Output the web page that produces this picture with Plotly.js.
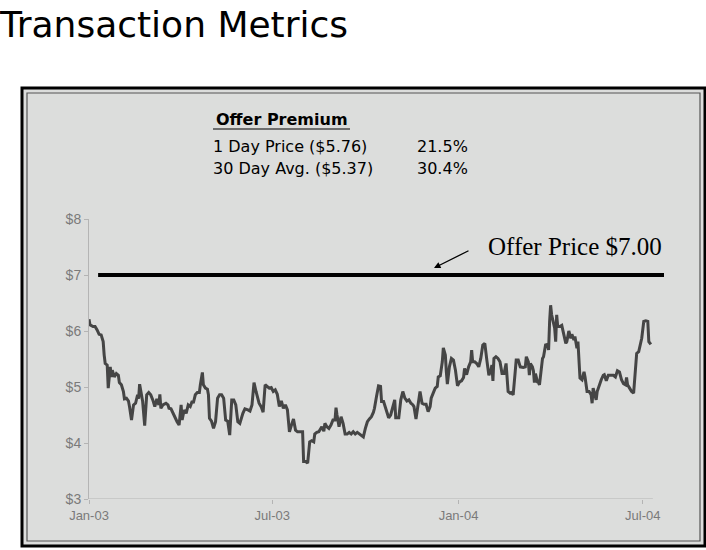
<!DOCTYPE html>
<html>
<head>
<meta charset="utf-8">
<script src="https://cdn.plot.ly/plotly-3.0.1.min.js"></script>
<style>html,body{margin:0;padding:0;background:#fff;}#chart{width:706px;height:550px;}</style>
</head>
<body>
<div id="chart"></div>
<script>
const dates = [
"2003-01-01","2003-01-02","2003-01-05","2003-01-07","2003-01-09","2003-01-11","2003-01-13","2003-01-15","2003-01-16","2003-01-17",
"2003-01-19","2003-01-20","2003-01-22","2003-01-23","2003-01-24","2003-01-26","2003-01-28","2003-01-30","2003-01-31","2003-02-02",
"2003-02-04","2003-02-05","2003-02-07","2003-02-09","2003-02-10","2003-02-12","2003-02-14","2003-02-16","2003-02-18","2003-02-19",
"2003-02-20","2003-02-22","2003-02-23","2003-02-25","2003-02-27","2003-03-01","2003-03-03","2003-03-05","2003-03-07","2003-03-09",
"2003-03-11","2003-03-12","2003-03-13","2003-03-15","2003-03-18","2003-03-20","2003-03-21","2003-03-23","2003-03-25","2003-03-27",
"2003-03-29","2003-03-31","2003-04-02","2003-04-03","2003-04-05","2003-04-07","2003-04-09","2003-04-11","2003-04-13","2003-04-14",
"2003-04-16","2003-04-18","2003-04-20","2003-04-21","2003-04-23","2003-04-24","2003-04-26","2003-04-28","2003-04-29","2003-04-30",
"2003-05-02","2003-05-04","2003-05-06","2003-05-08","2003-05-10","2003-05-12","2003-05-14","2003-05-16","2003-05-18","2003-05-20",
"2003-05-22","2003-05-24","2003-05-26","2003-05-28","2003-05-30","2003-06-02","2003-06-04","2003-06-07","2003-06-09","2003-06-11",
"2003-06-13","2003-06-15","2003-06-17","2003-06-18","2003-06-20","2003-06-22","2003-06-24","2003-06-26","2003-06-28","2003-06-30",
"2003-07-02","2003-07-04","2003-07-06","2003-07-08","2003-07-10","2003-07-12","2003-07-14","2003-07-16","2003-07-18","2003-07-20",
"2003-07-22","2003-07-24","2003-07-26","2003-07-29","2003-07-31","2003-08-01","2003-08-03","2003-08-05","2003-08-07","2003-08-09",
"2003-08-11","2003-08-12","2003-08-14","2003-08-16","2003-08-18","2003-08-19","2003-08-21","2003-08-22","2003-08-24","2003-08-26",
"2003-08-28","2003-08-30","2003-09-01","2003-09-02","2003-09-03","2003-09-05","2003-09-07","2003-09-09","2003-09-11","2003-09-13",
"2003-09-15","2003-09-17","2003-09-19","2003-09-21","2003-09-23","2003-09-25","2003-09-27","2003-09-29","2003-10-01","2003-10-03",
"2003-10-05","2003-10-07","2003-10-09","2003-10-10","2003-10-12","2003-10-14","2003-10-16","2003-10-17","2003-10-19","2003-10-21",
"2003-10-24","2003-10-26","2003-10-28","2003-10-30","2003-10-31","2003-11-03","2003-11-05","2003-11-07","2003-11-09","2003-11-11",
"2003-11-13","2003-11-15","2003-11-17","2003-11-18","2003-11-20","2003-11-22","2003-11-24","2003-11-26","2003-11-28","2003-11-30",
"2003-12-02","2003-12-04","2003-12-05","2003-12-07","2003-12-09","2003-12-11","2003-12-12","2003-12-14","2003-12-16","2003-12-17",
"2003-12-19","2003-12-20","2003-12-21","2003-12-23","2003-12-25","2003-12-27","2003-12-29","2003-12-31","2004-01-02","2004-01-04",
"2004-01-06","2004-01-07","2004-01-09","2004-01-11","2004-01-13","2004-01-14","2004-01-15","2004-01-17","2004-01-19","2004-01-21",
"2004-01-23","2004-01-25","2004-01-27","2004-01-29","2004-01-31","2004-02-02","2004-02-03","2004-02-04","2004-02-05","2004-02-07",
"2004-02-09","2004-02-11","2004-02-13","2004-02-15","2004-02-17","2004-02-19","2004-02-21","2004-02-22","2004-02-24","2004-02-26",
"2004-02-27","2004-02-29","2004-03-02","2004-03-05","2004-03-07","2004-03-08","2004-03-10","2004-03-11","2004-03-12","2004-03-14",
"2004-03-15","2004-03-16","2004-03-17","2004-03-19","2004-03-20","2004-03-21","2004-03-23","2004-03-24","2004-03-25","2004-03-27",
"2004-03-29","2004-03-30","2004-03-31","2004-04-01","2004-04-02","2004-04-04","2004-04-05","2004-04-06","2004-04-07","2004-04-08",
"2004-04-10","2004-04-12","2004-04-14","2004-04-16","2004-04-17","2004-04-19","2004-04-21","2004-04-22","2004-04-24","2004-04-25",
"2004-04-27","2004-04-28","2004-04-30","2004-05-02","2004-05-04","2004-05-05","2004-05-07","2004-05-09","2004-05-11","2004-05-12",
"2004-05-13","2004-05-15","2004-05-16","2004-05-17","2004-05-19","2004-05-21","2004-05-23","2004-05-24","2004-05-26","2004-05-28",
"2004-05-30","2004-06-02","2004-06-04","2004-06-06","2004-06-08","2004-06-10","2004-06-12","2004-06-14","2004-06-15","2004-06-16",
"2004-06-18","2004-06-20","2004-06-22","2004-06-24","2004-06-25","2004-06-27","2004-06-29","2004-06-30","2004-07-02","2004-07-04",
"2004-07-06","2004-07-07","2004-07-09"
];
const prices = [
6.21,6.11,6.08,6.08,6.02,5.94,5.93,5.81,5.57,5.42,
5.39,4.98,5.36,5.18,5.30,5.18,5.24,5.21,5.08,5.04,
4.92,4.79,4.80,4.75,4.65,4.41,4.68,4.71,4.86,4.79,
5.05,4.86,4.74,4.31,4.86,4.90,4.86,4.77,4.65,4.79,
4.68,4.87,4.62,4.68,4.71,4.68,4.62,4.61,4.53,4.43,
4.38,4.32,4.68,4.41,4.59,4.53,4.68,4.65,4.75,4.71,
4.86,4.90,4.90,5.04,5.26,5.04,4.98,4.96,4.86,4.44,
4.39,4.26,4.38,4.80,4.86,4.86,4.80,4.41,4.39,4.14,
4.77,4.77,4.68,4.38,4.35,4.53,4.61,4.59,4.57,4.68,
5.08,4.92,4.75,4.71,4.65,4.55,5.04,5.01,4.98,4.99,
4.92,4.95,4.87,4.65,4.75,4.62,4.68,4.59,4.20,4.32,
4.43,4.23,4.20,4.20,4.20,3.67,3.67,3.64,4.02,4.04,
4.02,4.16,4.19,4.20,4.26,4.29,4.21,4.35,4.29,4.26,
4.32,4.41,4.41,4.63,4.50,4.29,4.47,4.35,4.16,4.16,
4.19,4.16,4.20,4.16,4.19,4.16,4.14,4.11,4.26,4.38,
4.43,4.47,4.55,4.62,4.83,5.02,5.01,4.74,4.74,4.62,
4.45,4.50,4.62,4.77,4.45,4.45,4.77,4.92,4.80,4.75,
4.77,4.71,4.68,4.65,4.43,4.68,4.92,4.71,4.69,4.69,
4.56,4.65,4.80,4.89,4.98,5.01,5.18,5.20,5.45,5.70,
5.57,5.27,5.05,5.36,5.51,5.48,5.30,5.02,5.09,5.11,
5.17,5.33,5.22,5.36,5.45,5.66,5.45,5.45,5.42,5.36,
5.51,5.75,5.78,5.48,5.21,5.30,5.39,5.11,5.51,5.54,
5.51,5.45,5.24,5.24,5.42,4.92,4.89,4.90,4.86,5.27,
5.48,5.48,5.36,5.35,5.36,5.54,5.45,5.21,5.42,5.36,
5.29,5.08,5.24,5.09,5.08,5.04,5.30,5.51,5.54,5.75,
5.76,5.66,6.17,6.46,6.29,6.08,6.05,5.81,6.29,6.08,
6.08,6.10,5.93,5.78,5.81,6.00,5.87,5.94,5.84,5.90,
5.69,5.81,5.16,5.13,5.27,5.18,4.92,4.92,4.86,4.71,
4.98,4.86,4.77,4.92,5.04,5.13,5.21,5.22,5.11,5.21,
5.21,5.21,5.18,5.29,5.27,5.13,5.06,5.04,5.17,5.04,
4.98,4.92,4.89,5.33,5.60,5.63,5.81,5.87,6.17,6.18,
6.17,5.81,5.76
];
const offerDates = ["2003-01-10","2004-07-22"];
const offerPrice = [7.00, 7.00];
const xTickVals = ["2003-01-01","2003-07-01","2004-01-01","2004-07-01"];
const xTickText = ["Jan-03","Jul-03","Jan-04","Jul-04"];
const yTickVals = [3,4,5,6,7,8];
const yTickText = ["$3","$4","$5","$6","$7","$8"];
const premiumLabels = ["1 Day Price ($5.76)","30 Day Avg. ($5.37)"];
const premiumValues = ["21.5%","30.4%"];

// plot area in pixels: x 89..664, y 219..499
const L = 89, R = 664, T = 219, B = 499;
const W = R - L, H = B - T;
const px = v => (v - L) / W;
const py = v => (B - v) / H;

const traces = [
  {x: dates, y: prices, type: 'scatter', mode: 'lines',
   line: {color: '#454545', width: 3}, hoverinfo: 'x+y', showlegend: false},
  {x: offerDates, y: offerPrice, type: 'scatter', mode: 'lines',
   line: {color: '#000000', width: 4}, hoverinfo: 'y', showlegend: false}
];

const txtFont = {family: 'DejaVu Sans, Verdana, sans-serif', size: 16, color: '#000'};
const annotations = [
  {xref:'paper', yref:'paper', x:px(214), y:py(120), xanchor:'left', yanchor:'middle',
   text:'<b>Offer Premium</b>', showarrow:false,
   font:{family:'DejaVu Sans, Verdana, sans-serif', size:16, color:'#000'}},
  {xref:'paper', yref:'paper', x:px(211), y:py(146), xanchor:'left', yanchor:'middle',
   text: premiumLabels[0], showarrow:false, font: txtFont},
  {xref:'paper', yref:'paper', x:px(211), y:py(168), xanchor:'left', yanchor:'middle',
   text: premiumLabels[1], showarrow:false, font: txtFont},
  {xref:'paper', yref:'paper', x:px(415), y:py(146), xanchor:'left', yanchor:'middle',
   text: premiumValues[0], showarrow:false, font: txtFont},
  {xref:'paper', yref:'paper', x:px(415), y:py(168), xanchor:'left', yanchor:'middle',
   text: premiumValues[1], showarrow:false, font: txtFont},
  {xref:'paper', yref:'paper', x:px(486), y:py(246), xanchor:'left', yanchor:'middle',
   text:'Offer Price $7.00', showarrow:false,
   font:{family:'Liberation Serif, Times New Roman, serif', size:25, color:'#000'}},
  {xref:'paper', yref:'paper', x:px(434), y:py(268), text:'', showarrow:true,
   ax: 36, ay: -18, arrowhead: 2, arrowsize: 1, arrowwidth: 1.3, arrowcolor:'#000'}
];

const shapes = [
  // panel background with double border
  {type:'rect', xref:'paper', yref:'paper', x0:px(22), x1:px(705), y0:py(546), y1:py(88),
   fillcolor:'#dcdddc', line:{color:'#000', width:3}, layer:'below'},
  {type:'rect', xref:'paper', yref:'paper', x0:px(27), x1:px(700), y0:py(541), y1:py(93),
   fillcolor:'rgba(0,0,0,0)', line:{color:'#555', width:1.2}, layer:'below'},
  // underline of "Offer Premium"
  {type:'line', xref:'paper', yref:'paper', x0:px(213), x1:px(350), y0:py(129), y1:py(129),
   line:{color:'#000', width:1.2}},
  // x axis baseline
  {type:'line', xref:'x', yref:'y', x0:'2003-01-01', x1:'2004-07-11', y0:3, y1:3,
   line:{color:'#b4b4b4', width:1}}
];

const layout = {
  width: 706, height: 550,
  margin: {l: L, r: 706 - R, t: T, b: 550 - B, pad: 0},
  paper_bgcolor: '#ffffff',
  plot_bgcolor: 'rgba(0,0,0,0)',
  title: {text: 'Transaction Metrics', xref: 'container', yref: 'container',
          x: 0, xanchor: 'left', y: 1 - 24/550, yanchor: 'middle', pad: {l: 0, r: 0, t: 0, b: 0},
          font: {family: 'DejaVu Sans, Verdana, sans-serif', size: 36, color: '#000'}},
  xaxis: {type: 'date', range: ['2003-01-01', '2004-07-22'], tickvals: xTickVals, ticktext: xTickText,
          showgrid: false, zeroline: false, showline: false, ticks: 'outside', ticklen: 4,
          tickcolor: '#b4b4b4', tickfont: {family: 'Liberation Sans, Arial, sans-serif', size: 13, color: '#7a7a7a'}},
  yaxis: {range: [3, 8], tickvals: yTickVals, ticktext: yTickText, showgrid: false, zeroline: false,
          showline: true, linecolor: '#b4b4b4', linewidth: 1, ticks: 'outside', ticklen: 4, tickcolor: '#b4b4b4',
          tickfont: {family: 'Liberation Sans, Arial, sans-serif', size: 14, color: '#7a7a7a'}},
  annotations: annotations,
  shapes: shapes,
  showlegend: false
};

Plotly.newPlot('chart', traces, layout, {displayModeBar: false, staticPlot: true});
</script>
</body>
</html>
